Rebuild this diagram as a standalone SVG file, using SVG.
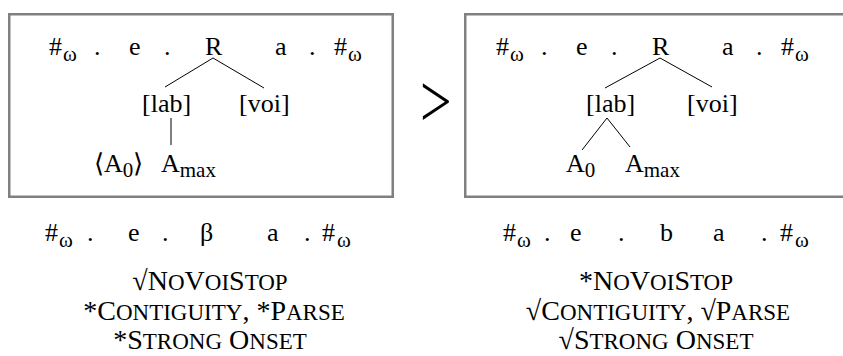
<svg xmlns="http://www.w3.org/2000/svg" width="843" height="356" viewBox="0 0 843 356">
<style>
.box{fill:#fff;stroke:#808080;stroke-width:2.5}
text{font-family:"Liberation Serif","Times New Roman",serif;fill:#000}
.t{font-size:26px}
.s{font-size:21px}
.c{font-size:28px;text-anchor:middle}
.sc{font-size:23px}
.ln{stroke:#000;stroke-width:1;fill:none}
</style>
<rect width="843" height="356" fill="#fff"/>
<g id="input">
<rect class="box" x="9.25" y="14.25" width="383.5" height="182.5"/>
<text class="t" y="55"><tspan x="49">#</tspan><tspan class="s" x="63" dy="6">ω</tspan><tspan x="94" dy="-6">.</tspan><tspan x="129">e</tspan><tspan x="164">.</tspan><tspan x="205">R</tspan><tspan x="275">a</tspan><tspan x="309">.</tspan><tspan x="334">#</tspan><tspan class="s" x="348" dy="6">ω</tspan></text>
<text class="t" x="142" y="112">[lab]</text>
<text class="t" x="239" y="112">[voi]</text>
<text class="t" y="172"><tspan x="94">⟨A</tspan><tspan class="s" dy="5">0</tspan><tspan dy="-5">⟩</tspan><tspan x="161">A</tspan><tspan class="s" dy="5">max</tspan></text>
</g>
<g id="relation">
<text transform="translate(420,127) scale(1,1.35)" style="font-size:56px">&gt;</text>
</g>
<g id="candidate">
<rect class="box" x="465.25" y="14.25" width="392" height="182.5"/>
<text class="t" y="55"><tspan x="496">#</tspan><tspan class="s" x="510" dy="6">ω</tspan><tspan x="541" dy="-6">.</tspan><tspan x="576">e</tspan><tspan x="611">.</tspan><tspan x="652">R</tspan><tspan x="722">a</tspan><tspan x="756">.</tspan><tspan x="781">#</tspan><tspan class="s" x="795" dy="6">ω</tspan></text>
<text class="t" x="586" y="112">[lab]</text>
<text class="t" x="687" y="112">[voi]</text>
<text class="t" y="172"><tspan x="566">A</tspan><tspan class="s" dy="5">0</tspan><tspan x="625" dy="-5">A</tspan><tspan class="s" dy="5">max</tspan></text>
</g>
<g id="connectors">
<line class="ln" x1="213" y1="58" x2="165" y2="87"/>
<line class="ln" x1="213" y1="58" x2="264" y2="88"/>
<line class="ln" x1="171" y1="118" x2="171" y2="145"/>
<line class="ln" x1="660" y1="58" x2="605" y2="88"/>
<line class="ln" x1="660" y1="58" x2="712" y2="87"/>
<line class="ln" x1="607" y1="118" x2="582" y2="150"/>
<line class="ln" x1="607" y1="118" x2="630" y2="147"/>
</g>
<g id="output-left">
<text class="t" y="241"><tspan x="45">#</tspan><tspan class="s" x="59" dy="6">ω</tspan><tspan x="87" dy="-6">.</tspan><tspan x="128">e</tspan><tspan x="162">.</tspan><tspan x="200">β</tspan><tspan x="267">a</tspan><tspan x="304">.</tspan><tspan x="322">#</tspan><tspan class="s" x="337" dy="6">ω</tspan></text>
<text class="c" x="210" y="290">√N<tspan class="sc">O</tspan>V<tspan class="sc">OI</tspan>S<tspan class="sc">TOP</tspan></text>
<text class="c" x="214" y="320">*C<tspan class="sc">ONTIGUITY</tspan>, *P<tspan class="sc">ARSE</tspan></text>
<text class="c" x="210" y="349">*S<tspan class="sc">TRONG</tspan> O<tspan class="sc">NSET</tspan></text>
</g>
<g id="output-right">
<text class="t" y="241"><tspan x="503">#</tspan><tspan class="s" x="517" dy="6">ω</tspan><tspan x="544" dy="-6">.</tspan><tspan x="570">e</tspan><tspan x="618">.</tspan><tspan x="660">b</tspan><tspan x="713">a</tspan><tspan x="761">.</tspan><tspan x="780">#</tspan><tspan class="s" x="795" dy="6">ω</tspan></text>
<text class="c" x="656" y="290">*N<tspan class="sc">O</tspan>V<tspan class="sc">OI</tspan>S<tspan class="sc">TOP</tspan></text>
<text class="c" x="658" y="320">√C<tspan class="sc">ONTIGUITY</tspan>, √P<tspan class="sc">ARSE</tspan></text>
<text class="c" x="656" y="349">√S<tspan class="sc">TRONG</tspan> O<tspan class="sc">NSET</tspan></text>
</g>
</svg>
